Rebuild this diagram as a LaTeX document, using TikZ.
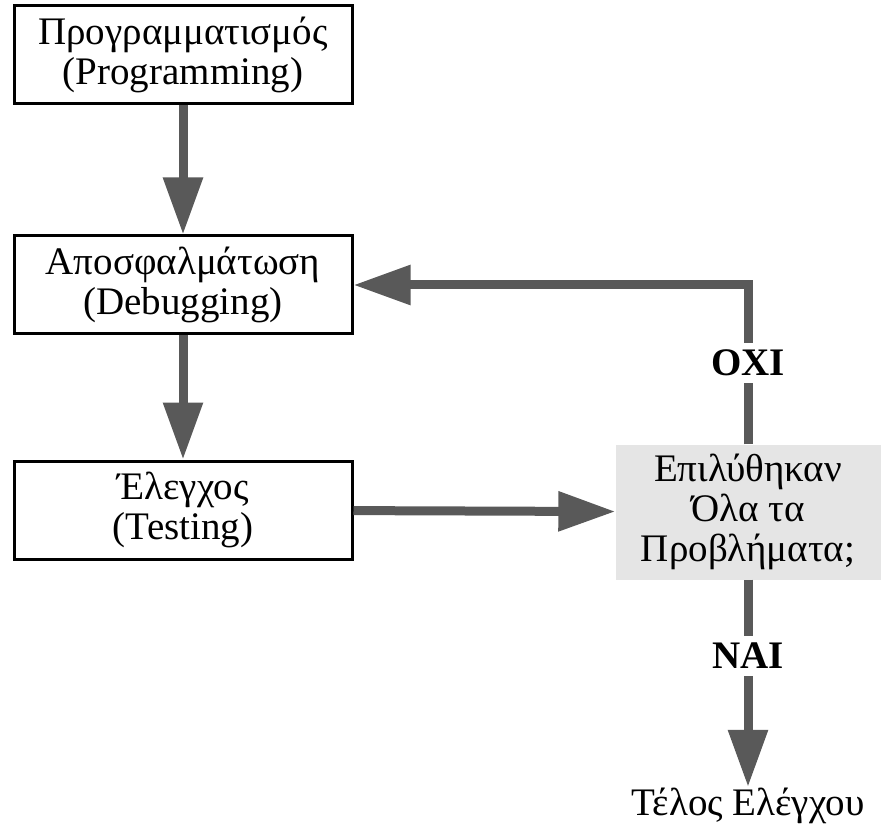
\documentclass[tikz,border=0pt]{standalone}
\usepackage{fontspec}
\setmainfont{Liberation Serif}
\newfontfamily\grserif{Liberation Serif}
\usepackage{tikz}
\usetikzlibrary{arrows.meta, positioning, calc}

\begin{document}
\begin{tikzpicture}[
    x=1pt, y=-1pt,
    font=\grserif\fontsize{39pt}{40pt}\selectfont,
    box/.style={
        rectangle,
        draw=black,
        line width=3pt,
        minimum width=338pt,
        minimum height=98pt,
        align=center,
        inner sep=0pt
    },
    decision/.style={
        rectangle,
        fill=gray!20,
        minimum width=265pt,
        minimum height=135pt,
        align=center,
        inner sep=0pt
    },
    answer/.style={
        font=\grserif\fontsize{39pt}{40pt}\selectfont\bfseries,
        fill=white,
        inner xsep=2pt,
        inner ysep=7pt
    },
    arrow/.style={
        -{Triangle[length=57pt, width=38pt]},
        line width=9pt,
        draw=black!65
    },
    line/.style={
        line width=9pt,
        draw=black!65
    }
]
\useasboundingbox (0,0) rectangle (881,826);

% Main column
\node[box] (prog) at (183,55) {Προγραμματισμός\\(Programming)};
\node[box, below=129pt of prog] (debug) {Αποσφαλμάτωση\\(Debugging)};
\node[box, below=124pt of debug] (test) {Έλεγχος\\(Testing)};

% Check and its answers
\node[decision] (check) at (748,512) {Επιλύθηκαν\\Όλα τα\\Προβλήματα;};
\node[answer] (no) at (748,363) {ΟΧΙ};
\node[answer] (yes) at (748,656) {ΝΑΙ};
\node[inner sep=1pt] (done) at (748,806) {Τέλος Ελέγχου};

% Arrows
\draw[arrow] (prog) -- (debug);
\draw[arrow] (debug) -- (test);
\draw[arrow] (test) -- (check);
\draw[line] (check) -- (no);
\draw[arrow] (no) |- (debug);
\draw[line] (check) -- (yes);
\draw[arrow] (yes) -- (done);

\end{tikzpicture}
\end{document}
